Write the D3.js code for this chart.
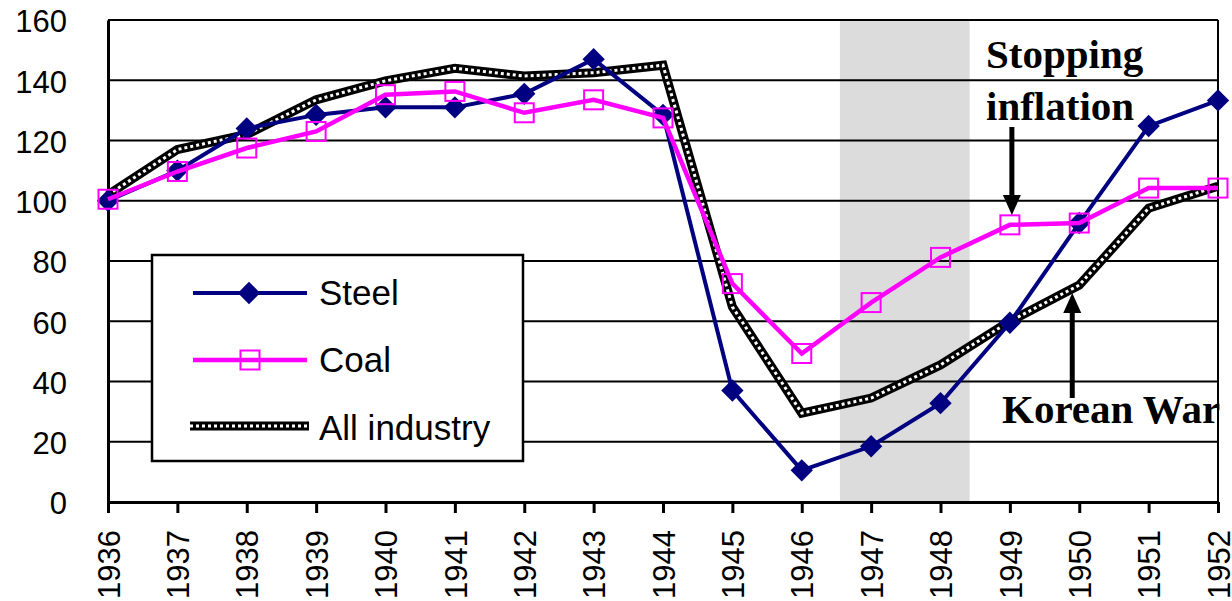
<!DOCTYPE html>
<html>
<head>
<meta charset="utf-8">
<script src="https://cdn.jsdelivr.net/npm/d3@7"></script>
<style>
  html, body { margin: 0; padding: 0; background: #fff; }
  svg { display: block; }
</style>
</head>
<body>
<svg id="chart" width="1232" height="601"></svg>
<script>
const years = [1936,1937,1938,1939,1940,1941,1942,1943,1944,1945,1946,1947,1948,1949,1950,1951,1952];
const steel = [100,110,124,128.5,131,131,135.5,147,128.5,37,10.5,18.5,32.8,59.5,92.6,124.8,133.3];
const coal = [100.5,109.7,117.5,123,135.2,136.3,129.2,133.5,127.5,72.5,49.3,66.2,81.2,92,92.6,104.2,104.2];
const allIndustry = [102,117,122,133.5,139.8,144,141.4,142.5,145,64.8,29.5,34.5,45.5,60,72,97.5,104.8];
const yTicks = [0,20,40,60,80,100,120,140,160];
const shadedPeriod = [1946.55, 1948.42];
const seriesNames = ["Steel", "Coal", "All industry"];
const annotations = [
  {lines: ["Stopping", "inflation"], year: 1949, arrowFrom: 127, arrowTo: 215},
  {lines: ["Korean War"], year: 1950, arrowFrom: 398, arrowTo: 293}
];

const svg = d3.select("#chart");
const x = d3.scaleLinear().domain([1936, 1952]).range([108, 1218]);
const y = d3.scaleLinear().domain([0, 160]).range([502, 20]);

// shaded band
svg.append("rect")
  .attr("x", x(shadedPeriod[0])).attr("y", y(160))
  .attr("width", x(shadedPeriod[1]) - x(shadedPeriod[0]))
  .attr("height", y(0) - y(160))
  .attr("fill", "#dcdcdc");

// gridlines
svg.append("g").selectAll("line").data(yTicks.filter(d => d > 0)).join("line")
  .attr("x1", x(1936)).attr("x2", x(1952))
  .attr("y1", d => y(d)).attr("y2", d => y(d))
  .attr("stroke", "#000").attr("stroke-width", 2);

// right border
svg.append("line").attr("x1", x(1952)).attr("x2", x(1952)).attr("y1", y(160)).attr("y2", y(0))
  .attr("stroke", "#000").attr("stroke-width", 2);

// y axis
const yAxis = d3.axisLeft(y).tickValues(yTicks).tickSize(0).tickPadding(41);
const gy = svg.append("g").attr("transform", `translate(${x(1936)},0)`).call(yAxis);
gy.select(".domain").attr("stroke", "#000").attr("stroke-width", 3);
gy.selectAll("text").attr("font-family", "Liberation Sans, Arial, sans-serif")
  .attr("font-size", 31).attr("fill", "#000").attr("dy", "0.38em");

// x axis
const xAxis = d3.axisBottom(x).tickValues(years).tickFormat(d3.format("d")).tickSizeInner(11).tickSizeOuter(0);
const gx = svg.append("g").attr("transform", `translate(0,${y(0)})`).call(xAxis);
gx.select(".domain").attr("stroke", "#000").attr("stroke-width", 3);
gx.selectAll(".tick line").attr("stroke", "#000").attr("stroke-width", 3);
gx.selectAll("text")
  .attr("font-family", "Liberation Sans, Arial, sans-serif")
  .attr("font-size", 31).attr("fill", "#000")
  .attr("text-anchor", "end")
  .attr("transform", "rotate(-90)")
  .attr("x", -28).attr("y", 0).attr("dy", "0.36em");

const line = d3.line().x((d, i) => x(years[i])).y(d => y(d));

// All industry (patterned line)
svg.append("path").datum(allIndustry).attr("d", line)
  .attr("fill", "none").attr("stroke", "#000").attr("stroke-width", 9).attr("stroke-linejoin", "miter");
svg.append("path").datum(allIndustry).attr("d", line)
  .attr("fill", "none").attr("stroke", "#fff").attr("stroke-width", 3).attr("stroke-dasharray", "3,3");

// Steel
svg.append("path").datum(steel).attr("d", line)
  .attr("fill", "none").attr("stroke", "#000080").attr("stroke-width", 4);
const diamond = d3.symbol().type(d3.symbolSquare).size(250);
svg.append("g").selectAll("path").data(steel).join("path")
  .attr("d", diamond)
  .attr("transform", (d, i) => `translate(${x(years[i])},${y(d)}) rotate(45)`)
  .attr("fill", "#000080");

// Coal
svg.append("path").datum(coal).attr("d", line)
  .attr("fill", "none").attr("stroke", "#ff00ff").attr("stroke-width", 4.5);
svg.append("g").selectAll("rect").data(coal).join("rect")
  .attr("x", (d, i) => x(years[i]) - 9.5).attr("y", d => y(d) - 9.5)
  .attr("width", 19).attr("height", 19)
  .attr("fill", "none").attr("stroke", "#ff00ff").attr("stroke-width", 2);

// plot top border re-draw
svg.append("line").attr("x1", x(1936)).attr("x2", x(1952)).attr("y1", y(160)).attr("y2", y(160))
  .attr("stroke", "#000").attr("stroke-width", 2);

// Legend
const lg = svg.append("g");
lg.append("rect").attr("x", 152).attr("y", 255).attr("width", 371).attr("height", 206)
  .attr("fill", "#fff").attr("stroke", "#000").attr("stroke-width", 2.5);
const legendY = [293, 360, 426];
const textBase = [305, 372, 440];
lg.append("line").attr("x1", 193).attr("x2", 307).attr("y1", legendY[0]).attr("y2", legendY[0])
  .attr("stroke", "#000080").attr("stroke-width", 4);
lg.append("path").attr("d", diamond).attr("transform", `translate(249,${legendY[0]}) rotate(45)`).attr("fill", "#000080");
lg.append("line").attr("x1", 193).attr("x2", 307).attr("y1", legendY[1]).attr("y2", legendY[1])
  .attr("stroke", "#ff00ff").attr("stroke-width", 4.5);
lg.append("rect").attr("x", 250 - 9.5).attr("y", legendY[1] - 9.5).attr("width", 19).attr("height", 19)
  .attr("fill", "none").attr("stroke", "#ff00ff").attr("stroke-width", 2);
lg.append("line").attr("x1", 190).attr("x2", 309).attr("y1", legendY[2]).attr("y2", legendY[2])
  .attr("stroke", "#000").attr("stroke-width", 9);
lg.append("line").attr("x1", 190).attr("x2", 309).attr("y1", legendY[2]).attr("y2", legendY[2])
  .attr("stroke", "#fff").attr("stroke-width", 3).attr("stroke-dasharray", "3,3");
lg.selectAll("text.lab").data(seriesNames).join("text").attr("class", "lab")
  .attr("x", 319).attr("y", (d, i) => textBase[i])
  .attr("font-family", "Liberation Sans, Arial, sans-serif").attr("font-size", 35)
  .attr("fill", "#000").text(d => d);

// Annotations
const serif = "Liberation Serif, Times New Roman, serif";
svg.append("text").attr("x", 986).attr("y", 68)
  .attr("font-family", serif).attr("font-weight", "bold")
  .attr("font-size", 41).attr("fill", "#000").text(annotations[0].lines[0]);
svg.append("text").attr("x", 986).attr("y", 120)
  .attr("font-family", serif).attr("font-weight", "bold")
  .attr("font-size", 41).attr("fill", "#000").text(annotations[0].lines[1]);
svg.append("text").attr("x", 1002).attr("y", 423)
  .attr("font-family", serif).attr("font-weight", "bold")
  .attr("font-size", 41).attr("fill", "#000").text(annotations[1].lines[0]);

function arrow(ax, from, to) {
  const dir = to > from ? 1 : -1;
  const headLen = 20, headHalf = 9;
  svg.append("line").attr("x1", ax).attr("x2", ax).attr("y1", from).attr("y2", to - dir * headLen)
    .attr("stroke", "#000").attr("stroke-width", 5);
  svg.append("path")
    .attr("d", `M${ax},${to} L${ax - headHalf},${to - dir * headLen} L${ax + headHalf},${to - dir * headLen} Z`)
    .attr("fill", "#000");
}
arrow(x(annotations[0].year) + 2, annotations[0].arrowFrom, annotations[0].arrowTo);
arrow(x(annotations[1].year) - 7, annotations[1].arrowFrom, annotations[1].arrowTo);
</script>
</body>
</html>
